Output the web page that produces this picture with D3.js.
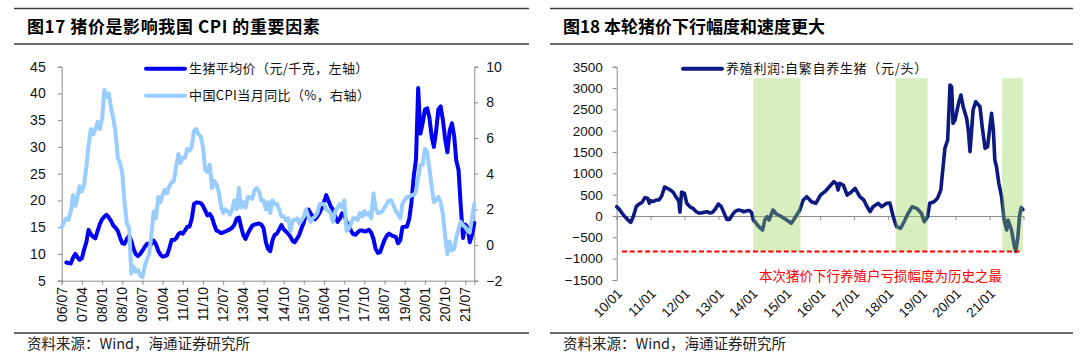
<!DOCTYPE html>
<html><head><meta charset="utf-8">
<script src="https://cdn.jsdelivr.net/npm/d3@7"></script>
<style>
body{margin:0;background:#fff;}
svg{display:block;}
</style>
</head><body>
<svg id="c" width="1080" height="361"></svg>
<script>
// ================= DATA =================
const leftTitle = "图17 猪价是影响我国 CPI 的重要因素";
const rightTitle = "图18 本轮猪价下行幅度和速度更大";
const sourceText = "资料来源：Wind，海通证券研究所";
const pigLabel = "生猪平均价（元/千克，左轴）";
const cpiLabel = "中国CPI当月同比（%，右轴）";
const profitLabel = "养殖利润:自繁自养生猪（元/头）";
const noteText = "本次猪价下行养殖户亏损幅度为历史之最";

// Pig price (yuan/kg), monthly from 2006-09
const pigStart = "2006-09";
const pigValues = [
  8.4, 8.3, 8.2, 9.3, 10.0, 9.4, 8.9, 9.2, 10.8, 12.2,
  14.5, 13.7, 13.2, 12.9, 14.3, 15.6, 16.5, 17.0, 17.3, 16.8,
  16.2, 15.3, 14.9, 14.3, 13.0, 12.0, 11.9, 12.8, 13.4, 12.4,
  11.0, 10.0, 9.6, 10.0, 10.6, 11.3, 11.9, 11.9, 11.9, 12.5,
  11.8, 10.6, 9.9, 9.5, 9.6, 9.8, 11.0, 12.6, 12.6, 12.9,
  13.7, 14.0, 13.8, 14.4, 15.1, 15.1, 16.5, 19.3, 19.6, 19.6,
  19.5, 19.0, 18.1, 17.2, 17.5, 16.8, 15.5, 14.4, 14.2, 13.9,
  14.0, 14.2, 14.4, 14.6, 14.9, 15.5, 16.6, 16.8, 15.1, 13.5,
  12.8, 13.8, 14.6, 15.3, 15.5, 15.6, 15.7, 15.5, 14.8, 12.2,
  11.0, 10.5, 12.5, 13.6, 13.8, 14.6, 15.4, 14.6, 14.2, 13.8,
  13.2, 12.4, 12.2, 12.9, 13.6, 14.8, 15.9, 17.5, 18.3, 17.6,
  17.0, 16.5, 17.0, 17.7, 18.6, 19.7, 21.0, 19.9, 18.9, 18.3,
  17.0, 16.0, 16.6, 17.6, 17.2, 16.0, 15.0, 14.4, 13.7, 13.6,
  14.0, 14.4, 14.4, 14.2, 14.3, 14.5, 14.0, 12.8, 11.0, 10.2,
  10.3, 11.5, 12.6, 13.4, 13.8, 13.5, 13.3, 13.2, 12.0, 12.6,
  15.0, 15.1, 15.1, 16.5, 19.5, 24.4, 27.6, 41.0, 32.5, 34.5,
  37.0, 37.2, 35.5, 32.0, 30.0, 33.0, 37.0, 37.6, 35.0, 31.5,
  29.0, 33.0, 34.4, 32.0, 27.5, 25.7, 19.0, 13.0, 15.5, 15.0,
  12.2, 13.5, 15.8
];

// China CPI YoY (%), monthly from 2006-07
const cpiStart = "2006-07";
const cpiValues = [
  1.0, 1.3, 1.5, 1.4, 1.9, 2.8,
  2.2, 2.7, 3.3, 3.0, 3.4, 4.4, 5.6, 6.5, 6.2, 6.5, 6.9, 6.5,
  7.1, 8.7, 8.3, 8.5, 7.7, 7.1, 6.3, 4.9, 4.6, 4.0, 2.4, 1.2,
  1.0, -1.6, -1.2, -1.5, -1.4, -1.7, -1.8, -1.2, -0.8, -0.5, 0.6, 1.9,
  1.5, 2.7, 2.4, 2.8, 3.1, 2.9, 3.3, 3.5, 3.6, 4.4, 5.1, 4.6,
  4.9, 4.9, 5.4, 5.3, 5.5, 6.4, 6.5, 6.2, 6.1, 5.5, 4.2, 4.1,
  4.5, 3.2, 3.6, 3.4, 3.0, 2.2, 1.8, 2.0, 1.9, 1.7, 2.0, 2.5,
  2.0, 3.2, 2.1, 2.4, 2.1, 2.7, 2.7, 2.6, 3.1, 3.2, 3.0, 2.5,
  2.5, 2.0, 2.4, 1.8, 2.5, 2.3, 2.3, 2.0, 1.6, 1.6, 1.4, 1.5,
  0.8, 1.4, 1.4, 1.5, 1.2, 1.4, 1.6, 2.0, 1.6, 1.3, 1.5, 1.6,
  1.8, 2.3, 2.3, 2.3, 2.0, 1.9, 1.8, 1.3, 1.9, 2.1, 2.3, 2.1,
  2.5, 0.8, 0.9, 1.2, 1.5, 1.5, 1.4, 1.8, 1.6, 1.9, 1.7, 1.8,
  1.5, 2.9, 2.1, 1.8, 1.8, 1.9, 2.1, 2.3, 2.5, 2.5, 2.2, 1.9,
  1.7, 1.5, 2.3, 2.5, 2.7, 2.7, 2.8, 2.8, 3.0, 3.8, 4.5, 4.5,
  5.4, 5.2, 4.3, 3.3, 2.4, 2.5, 2.7, 2.4, 1.7, 0.5, -0.5, 0.2,
  -0.3, -0.2, 0.4, 0.9, 1.3, 1.1, 1.0, 0.8, 0.7, 1.5, 2.3
];

const leftXEnd = "2021-11";
const leftTickLabels = ["06/07","07/04","08/01","08/10","09/07","10/04","11/01","11/10","12/07","13/04",
  "14/01","14/10","15/07","16/04","17/01","17/10","18/07","19/04","20/01","20/10","21/07"];
const leftYTicks = [5,10,15,20,25,30,35,40,45];
const rightYTicks = [-2,0,2,4,6,8,10];

// Self-breeding pig farming profit (yuan/head)
const profitDates = [
  "2010-01-01","2010-02-01","2010-03-01","2010-04-01","2010-05-01","2010-06-01","2010-07-01","2010-08-01",
  "2010-09-01","2010-10-01","2010-11-01","2010-12-01","2010-12-19","2011-01-01","2011-02-01","2011-03-01",
  "2011-04-01","2011-05-01","2011-06-01","2011-07-01","2011-08-01","2011-09-01","2011-10-01","2011-11-01",
  "2011-11-13","2011-12-01","2012-01-01","2012-01-25","2012-03-01","2012-04-01","2012-05-01","2012-06-01",
  "2012-07-01","2012-08-01","2012-09-01","2012-10-01","2012-11-01","2012-12-01","2013-01-01","2013-02-01",
  "2013-03-01","2013-04-01","2013-05-01","2013-06-01","2013-07-01","2013-08-01","2013-09-01","2013-10-01",
  "2013-11-01","2013-12-01","2013-12-25","2014-01-12","2014-02-01","2014-03-01","2014-04-01","2014-04-21",
  "2014-05-15","2014-06-10","2014-07-01","2014-08-12","2014-09-18","2014-11-12","2015-01-06","2015-02-26",
  "2015-04-03","2015-05-28","2015-07-04","2015-08-10","2015-10-01","2015-11-16","2016-01-07","2016-02-22",
  "2016-04-10","2016-05-28","2016-06-28","2016-07-13","2016-08-01","2016-09-07","2016-10-19","2016-12-07",
  "2017-01-13","2017-03-04","2017-04-16","2017-05-22","2017-06-22","2017-07-25","2017-09-19","2017-10-25",
  "2017-12-19","2018-01-22","2018-02-27","2018-04-04","2018-05-19","2018-07-04","2018-08-07","2018-09-19",
  "2018-11-07","2018-12-28","2019-01-28","2019-03-04","2019-03-28","2019-05-13","2019-06-19","2019-07-25",
  "2019-09-07","2019-10-07","2019-11-01","2019-11-19","2019-12-04","2019-12-25","2020-02-01","2020-02-27",
  "2020-03-22","2020-04-28","2020-05-16","2020-06-04","2020-07-07","2020-08-04","2020-09-19","2020-10-13",
  "2020-11-13","2020-12-10","2021-01-04","2021-01-22","2021-02-10","2021-02-26","2021-03-16","2021-04-10",
  "2021-05-10","2021-06-07","2021-07-04","2021-07-19","2021-08-25","2021-09-22","2021-10-10","2021-11-01",
  "2021-11-19","2021-12-07","2021-12-25"
];
const profitValues = [
  218, 150, 60, -20, -90, -150, 0, 230,
  280, 320, 430, 415, 298, 360, 340, 375,
  375, 470, 680, 650, 610, 560, 450, 350,
  90, 560, 530, 300, 215, 180, 110, 70,
  70, 90, 100, 70, 90, 170, 280, 220,
  80, -80, -80, 30, 110, 140, 130, 100,
  120, 130, 78, -94, -140, -220, -290, -328,
  -94, -16, -94, 141, 47, -16, -94, -171,
  -54, 141, 375, 452, 335, 298, 492, 570,
  687, 804, 750, 609, 766, 727, 492, 570,
  649, 452, 375, 218, 101, 218, 298, 218,
  298, 305, -16, -250, -288, -94, 63, 218,
  180, 63, -133, -16, 298, 335, 415, 609,
  1587, 1781, 3071, 3031, 2173, 2250, 2642, 2836,
  2562, 2290, 2016, 1507, 2485, 2679, 2562, 2093,
  1587, 1624, 2093, 2407, 2016, 1313, 1156, 766,
  452, -94, -328, -94, -328, -680, -830, -500,
  0, 200, 150
];
const profitXStart = "2010-01-01", profitXEnd = "2022-01-01";
const profitTickLabels = ["10/01","11/01","12/01","13/01","14/01","15/01","16/01","17/01","18/01","19/01","20/01","21/01"];
const profitYTicks = [-1500,-1000,-500,0,500,1000,1500,2000,2500,3000,3500];
const shadeStarts = ["2014-01-11","2018-03-25","2021-05-16"];
const shadeEnds   = ["2015-06-04","2019-03-04","2021-12-25"];
const shadeTop = 3230;
const lossLine = -830;

// ================= STYLE =================
const C = {
  pig: "#0000f5", cpi: "#99ccff", profit: "#0c1a80", axis: "#8c8c8c",
  text: "#111", rule: "#3c3c3c", shade: "#92d050", red: "#ff0000"
};
const NUM_FONT = "'Liberation Sans', Arial, sans-serif";
const CJK_FONT = "'Noto Sans CJK SC', 'Noto Sans', sans-serif";

const svg = d3.select("#c");
const parseM = d3.timeParse("%Y-%m");
const parseD = d3.timeParse("%Y-%m-%d");
const parseTick = d3.timeParse("%y/%m");

// ---- frames (titles, rules, sources) ----
function frame(x0, x1, title, titleX, titleSpacing) {
  svg.append("line").attr("x1", x0).attr("x2", x1).attr("y1", 8.5).attr("y2", 8.5)
    .attr("stroke", C.rule).attr("stroke-width", 1.6);
  svg.append("line").attr("x1", x0).attr("x2", x1).attr("y1", 44).attr("y2", 44)
    .attr("stroke", C.rule).attr("stroke-width", 1.6);
  svg.append("text").attr("x", titleX).attr("y", 33)
    .attr("font-family", CJK_FONT).attr("font-weight", "bold").attr("font-size", 17)
    .attr("letter-spacing", titleSpacing)
    .attr("fill", "#000").text(title);
  svg.append("line").attr("x1", x0).attr("x2", x1).attr("y1", 333).attr("y2", 333)
    .attr("stroke", C.rule).attr("stroke-width", 1.6);
  svg.append("text").attr("x", titleX).attr("y", 349)
    .attr("font-family", CJK_FONT).attr("font-size", 14.5)
    .attr("fill", "#222").text(sourceText);
}
frame(14, 529, leftTitle, 27, 0.6);
frame(550, 1073, rightTitle, 563, 0);

function styleAxis(g) {
  g.selectAll(".domain").attr("stroke", C.axis).attr("stroke-width", 1);
  g.selectAll(".tick line").attr("stroke", C.axis).attr("stroke-width", 1);
  g.selectAll("text").attr("font-family", NUM_FONT).attr("fill", C.text);
}

// ================= LEFT CHART =================
(function () {
  const top = 66.7, bottom = 280.7, left = 61.7, right = 474.3;
  const x = d3.scaleTime().domain([parseM(cpiStart), parseM(leftXEnd)]).range([left, right]);
  const yL = d3.scaleLinear().domain([5, 45]).range([bottom, top]);
  const yR = d3.scaleLinear().domain([-2, 10]).range([bottom, top]);

  const gL = svg.append("g").attr("transform", `translate(${left},0)`)
    .call(d3.axisLeft(yL).tickValues(leftYTicks).tickSize(4).tickPadding(12));
  styleAxis(gL); gL.selectAll("text").attr("font-size", 14);

  const gR = svg.append("g").attr("transform", `translate(${right},0)`)
    .call(d3.axisRight(yR).tickValues(rightYTicks).tickSize(4).tickPadding(8));
  styleAxis(gR); gR.selectAll("text").attr("font-size", 14);

  const tickDates = leftTickLabels.map(parseTick);
  const gB = svg.append("g").attr("transform", `translate(0,${bottom})`)
    .call(d3.axisBottom(x).tickValues(tickDates).tickSize(4).tickFormat(""));
  styleAxis(gB);
  svg.append("g").selectAll("text").data(leftTickLabels).join("text")
    .attr("transform", d => `translate(${x(parseTick(d))},287) rotate(-90)`)
    .attr("text-anchor", "end").attr("dy", "0.35em")
    .attr("font-family", NUM_FONT).attr("font-size", 14).attr("fill", C.text)
    .text(d => d);

  const pigStartD = parseM(pigStart);
  const pigData = pigValues.map((v, i) => ({ d: d3.timeMonth.offset(pigStartD, i), v }));
  const cpiStartD = parseM(cpiStart);
  const cpiData = cpiValues.map((v, i) => ({ d: d3.timeMonth.offset(cpiStartD, i), v }));

  svg.append("path").datum(pigData)
    .attr("d", d3.line().x(p => x(p.d)).y(p => yL(p.v)))
    .attr("fill", "none").attr("stroke", C.pig).attr("stroke-width", 4)
    .attr("stroke-linejoin", "round").attr("stroke-linecap", "round");
  svg.append("path").datum(cpiData)
    .attr("d", d3.line().x(p => x(p.d)).y(p => yR(p.v)))
    .attr("fill", "none").attr("stroke", C.cpi).attr("stroke-width", 4)
    .attr("stroke-linejoin", "round").attr("stroke-linecap", "round");

  // legend
  const leg = [{ t: pigLabel, c: C.pig, y: 68.8 }, { t: cpiLabel, c: C.cpi, y: 95.8 }];
  leg.forEach(l => {
    svg.append("line").attr("x1", 146).attr("x2", 185).attr("y1", l.y).attr("y2", l.y)
      .attr("stroke", l.c).attr("stroke-width", 4).attr("stroke-linecap", "round");
    svg.append("text").attr("x", 189).attr("y", l.y).attr("dy", "0.36em")
      .attr("font-family", CJK_FONT).attr("font-size", 13).attr("letter-spacing", 0.4)
      .attr("fill", C.text).text(l.t);
  });
})();

// ================= RIGHT CHART =================
(function () {
  const top = 66.7, bottom = 280, left = 616.7;
  const x = d3.scaleTime().domain([parseD(profitXStart), parseD(profitXEnd)]).range([left, 1023.5]);
  const y = d3.scaleLinear().domain([-1500, 3500]).range([bottom, top]);

  const gL = svg.append("g").attr("transform", `translate(${left},0)`)
    .call(d3.axisLeft(y).tickValues(profitYTicks).tickSize(4).tickPadding(10).tickFormat(d3.format("d")));
  styleAxis(gL); gL.selectAll("text").attr("font-size", 13.5);

  const tickDates = profitTickLabels.map(parseTick);
  const gB = svg.append("g").attr("transform", `translate(0,${y(0)})`)
    .call(d3.axisBottom(x).tickValues(tickDates).tickSize(4).tickFormat(""));
  styleAxis(gB);
  svg.append("g").selectAll("text").data(profitTickLabels).join("text")
    .attr("transform", d => `translate(${x(parseTick(d)) + 3},291) rotate(-45)`)
    .attr("text-anchor", "end").attr("dy", "0.35em")
    .attr("font-family", NUM_FONT).attr("font-size", 13.5).attr("fill", C.text)
    .text(d => d);

  const data = profitDates.map((d, i) => ({ d: parseD(d), v: profitValues[i] }));
  svg.append("path").datum(data)
    .attr("d", d3.line().x(p => x(p.d)).y(p => y(p.v)))
    .attr("fill", "none").attr("stroke", C.profit).attr("stroke-width", 3.6)
    .attr("stroke-linejoin", "round").attr("stroke-linecap", "round");

  // shaded periods (drawn over the line, semi-transparent)
  svg.append("g").selectAll("rect").data(shadeStarts).join("rect")
    .attr("x", (d) => x(parseD(d)))
    .attr("width", (d, i) => x(parseD(shadeEnds[i])) - x(parseD(d)))
    .attr("y", y(shadeTop)).attr("height", y(lossLine) - y(shadeTop))
    .attr("fill", C.shade).attr("fill-opacity", 0.37);

  // red dashed line
  svg.append("line").attr("x1", 622).attr("x2", 1021)
    .attr("y1", y(lossLine)).attr("y2", y(lossLine))
    .attr("stroke", C.red).attr("stroke-width", 2).attr("stroke-dasharray", "5,2.7");
  svg.append("text").attr("x", 759).attr("y", 276).attr("dy", "0.36em")
    .attr("font-family", CJK_FONT).attr("font-size", 13.5).attr("fill", C.red)
    .text(noteText);

  // legend
  svg.append("line").attr("x1", 683).attr("x2", 722).attr("y1", 68.7).attr("y2", 68.7)
    .attr("stroke", C.profit).attr("stroke-width", 4).attr("stroke-linecap", "round");
  svg.append("text").attr("x", 726).attr("y", 68.7).attr("dy", "0.36em")
    .attr("font-family", CJK_FONT).attr("font-size", 13).attr("letter-spacing", 0.7)
    .attr("fill", C.text).text(profitLabel);
})();
</script>
</body></html>
